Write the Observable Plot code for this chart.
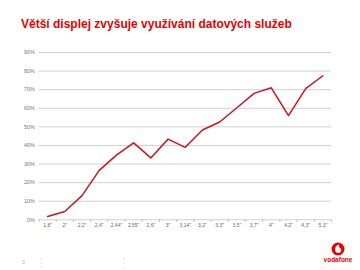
<!DOCTYPE html>
<html><head><meta charset="utf-8">
<script src="https://cdn.jsdelivr.net/npm/d3@7"></script>
<script src="https://cdn.jsdelivr.net/npm/@observablehq/plot@0.6"></script>
<style>
body{margin:0;width:360px;height:270px;background:#fff;position:relative;overflow:hidden;font-family:"Liberation Sans",Arial,sans-serif}
#title{position:absolute;left:21px;top:16px;font-size:12px;font-weight:bold;color:#e60000;white-space:nowrap;transform:scaleY(1.12);transform-origin:left top}
#chart{position:absolute;left:0;top:40px}
#logo{position:absolute;left:0;top:0}
</style></head><body>
<div id="title">Větší displej zvyšuje využívání datových služeb</div>
<div id="chart"></div>
<svg id="logo" width="360" height="270">
  <line x1="41" y1="258" x2="41" y2="270" stroke="#e4e4e4" stroke-dasharray="2,2"/>
  <line x1="124" y1="258" x2="124" y2="270" stroke="#e4e4e4" stroke-dasharray="2,2"/>
  <text x="22" y="264" font-size="5" fill="#aaa" font-family="Liberation Sans">3</text>
  <circle cx="338" cy="249" r="6.5" fill="#e60000"/>
  <path d="M339.5,244.5 c-2.5,0.3 -4.5,2.3 -4.5,5 c0,2 1.3,3.5 3.2,3.5 c1.8,0 3,-1.3 3,-3 c0,-1.8 -1.4,-2.4 -2.3,-2.8 c0,-1.2 0.4,-2.2 0.6,-2.7z" fill="#fff"/>
  <text x="338" y="262" text-anchor="middle" font-size="6.5" font-weight="bold" fill="#e60000" font-family="Liberation Sans">vodafone</text>
</svg>
<script>
const categories = ['1,8"','2"','2,2"','2,4"','2,44"','2,55"','2,6"','3"','3,14"','3,2"','3,3"','3,5"','3,7"','4"','4,2"','4,3"','5,3"'];
const values = [1.8, 4.5, 13, 26.6, 34.8, 41.4, 33.3, 43.4, 39, 48.3, 52.6, 60.3, 68, 71, 56, 70.6, 77.5];
const yTicks = [0, 0.1, 0.2, 0.3, 0.4, 0.5, 0.6, 0.7, 0.8, 0.9];

const idx = categories.map((c, i) => i);
const boundaries = d3.range(categories.length + 1).map(i => i - 0.5);

const chart = Plot.plot({
  width: 360,
  height: 200,
  marginLeft: 38.5,
  marginRight: 29,
  marginTop: 12,
  marginBottom: 20.7,
  style: {fontFamily: '"Liberation Sans", Arial, sans-serif', background: "transparent"},
  x: {type: "linear", domain: [-0.5, categories.length - 0.5]},
  y: {domain: [0, 0.9]},
  marks: [
    Plot.ruleY(yTicks, {stroke: "#d0d0d0", strokeWidth: 1}),
    Plot.axisY({ticks: yTicks, tickFormat: d3.format(".0%"), tickSize: 0, tickPadding: 4, fontSize: 5.5, fill: "#777", label: null}),
    Plot.axisX({ticks: boundaries, tickSize: 2.5, tickFormat: () => "", stroke: "#bbb", label: null}),
    Plot.axisX({ticks: idx, tickFormat: i => categories[i], tickSize: 0, tickPadding: 3.5, fontSize: 5, fill: "#666", label: null}),
    Plot.lineY(values, {x: (d, i) => i, y: d => d / 100, stroke: "#cc1420", strokeWidth: 1.5})
  ]
});
document.getElementById("chart").appendChild(chart);
</script>
</body></html>
